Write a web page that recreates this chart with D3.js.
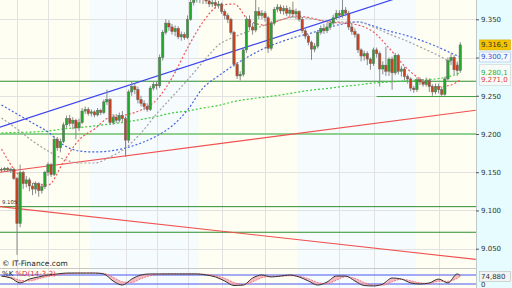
<!DOCTYPE html>
<html>
<head>
<meta charset="utf-8">
<script src="https://cdn.jsdelivr.net/npm/d3@7"></script>
<style>
html, body { margin: 0; padding: 0; background: #fff; }
svg { display: block; font-family: "DejaVu Sans", sans-serif; }
</style>
</head>
<body>
<svg id="chart" width="512" height="288"></svg>
<script>
// Candles (one per bar, left to right)
const opens = [9.154,9.153,9.155,9.153,9.154,9.142,9.083,9.150,9.135,9.140,9.132,9.128,9.135,9.126,9.131,9.150,9.160,9.147,9.193,9.182,
  9.190,9.212,9.220,9.214,9.218,9.208,9.215,9.230,9.232,9.227,9.229,9.225,9.231,9.228,9.242,9.245,9.215,9.222,9.218,9.224,
  9.220,9.192,9.255,9.262,9.258,9.245,9.240,9.236,9.232,9.260,9.265,9.263,9.300,9.333,9.345,9.340,9.334,9.338,9.327,9.330,
  9.326,9.350,9.372,9.378,9.382,9.376,9.379,9.374,9.370,9.372,9.368,9.370,9.360,9.355,9.350,9.333,9.291,9.276,9.278,9.310,
  9.350,9.340,9.336,9.360,9.355,9.358,9.352,9.312,9.345,9.363,9.366,9.361,9.364,9.358,9.362,9.357,9.360,9.350,9.335,9.328,
  9.320,9.311,9.315,9.333,9.338,9.335,9.340,9.345,9.352,9.358,9.355,9.362,9.358,9.340,9.334,9.330,9.310,9.302,9.305,9.298,
  9.292,9.310,9.305,9.285,9.290,9.282,9.298,9.280,9.303,9.282,9.285,9.275,9.272,9.260,9.258,9.271,9.268,9.265,9.270,9.262,
  9.255,9.262,9.258,9.252,9.272,9.296,9.300,9.290,9.283];
const highs = [9.156,9.157,9.157,9.156,9.156,9.144,9.160,9.152,9.145,9.143,9.136,9.138,9.137,9.135,9.152,9.163,9.162,9.197,9.196,9.194,
  9.215,9.224,9.225,9.222,9.220,9.220,9.234,9.236,9.235,9.232,9.231,9.234,9.233,9.245,9.258,9.247,9.226,9.226,9.228,9.230,
  9.223,9.258,9.268,9.266,9.262,9.250,9.244,9.240,9.263,9.268,9.268,9.304,9.336,9.350,9.349,9.344,9.342,9.341,9.334,9.333,
  9.355,9.385,9.390,9.392,9.388,9.386,9.383,9.378,9.376,9.375,9.374,9.372,9.363,9.358,9.352,9.335,9.293,9.282,9.313,9.354,
  9.355,9.345,9.376,9.366,9.362,9.361,9.354,9.348,9.366,9.370,9.369,9.368,9.368,9.366,9.373,9.364,9.362,9.353,9.338,9.330,
  9.322,9.319,9.336,9.342,9.344,9.345,9.349,9.356,9.362,9.362,9.376,9.366,9.361,9.344,9.338,9.332,9.312,9.309,9.308,9.300,
  9.313,9.313,9.308,9.295,9.314,9.300,9.301,9.306,9.305,9.289,9.288,9.278,9.274,9.263,9.274,9.274,9.272,9.274,9.273,9.265,
  9.266,9.266,9.262,9.275,9.300,9.305,9.303,9.295,9.320];
const lows = [9.150,9.151,9.150,9.149,9.140,9.042,9.078,9.128,9.130,9.125,9.120,9.122,9.118,9.122,9.128,9.145,9.144,9.145,9.178,9.176,
  9.188,9.208,9.210,9.206,9.193,9.204,9.213,9.226,9.224,9.223,9.222,9.223,9.225,9.226,9.238,9.212,9.212,9.214,9.215,9.216,
  9.170,9.188,9.250,9.252,9.240,9.236,9.231,9.229,9.230,9.257,9.258,9.260,9.296,9.330,9.335,9.330,9.328,9.324,9.322,9.323,
  9.324,9.348,9.368,9.372,9.371,9.370,9.370,9.366,9.366,9.364,9.364,9.357,9.350,9.345,9.330,9.288,9.272,9.270,9.275,9.306,
  9.336,9.330,9.333,9.350,9.350,9.347,9.306,9.309,9.342,9.359,9.357,9.356,9.354,9.353,9.352,9.350,9.347,9.332,9.324,9.316,
  9.297,9.307,9.312,9.330,9.331,9.332,9.336,9.342,9.349,9.351,9.352,9.354,9.336,9.330,9.326,9.306,9.295,9.296,9.290,9.284,
  9.289,9.300,9.262,9.278,9.276,9.276,9.258,9.277,9.278,9.275,9.270,9.266,9.256,9.254,9.255,9.264,9.262,9.262,9.255,9.250,
  9.252,9.253,9.249,9.250,9.270,9.290,9.278,9.276,9.280];
const closes = [9.153,9.155,9.153,9.154,9.142,9.083,9.150,9.135,9.140,9.132,9.128,9.135,9.126,9.131,9.150,9.160,9.147,9.193,9.182,9.190,
  9.212,9.220,9.214,9.218,9.208,9.215,9.230,9.232,9.227,9.229,9.225,9.231,9.228,9.242,9.245,9.215,9.222,9.218,9.224,9.220,
  9.192,9.255,9.262,9.258,9.245,9.240,9.236,9.232,9.260,9.265,9.263,9.300,9.333,9.345,9.340,9.334,9.338,9.327,9.330,9.326,
  9.350,9.372,9.378,9.382,9.376,9.379,9.374,9.370,9.372,9.368,9.370,9.360,9.355,9.350,9.333,9.291,9.276,9.278,9.310,9.350,
  9.340,9.336,9.360,9.355,9.358,9.352,9.312,9.345,9.363,9.366,9.361,9.364,9.358,9.362,9.357,9.360,9.350,9.335,9.328,9.320,
  9.311,9.315,9.333,9.338,9.335,9.340,9.345,9.352,9.358,9.355,9.362,9.358,9.340,9.334,9.330,9.310,9.302,9.305,9.298,9.292,
  9.310,9.305,9.285,9.290,9.282,9.298,9.280,9.303,9.282,9.285,9.275,9.272,9.260,9.258,9.271,9.268,9.265,9.270,9.262,9.255,
  9.262,9.258,9.252,9.272,9.296,9.300,9.284,9.283,9.3165];

// Moving averages, read every 5 bars
const maIdx = [0,5,10,15,20,25,30,35,40,45,50,55,60,65,70,75,80,85,90,95,100,105,110,115,120,125,130,135,140,145,148];
const maRed = [9.1804,9.1490,9.1359,9.1333,9.1634,9.1922,9.2066,9.2222,9.2249,9.2314,9.2445,9.2732,9.3125,9.3465,9.3674,9.3700,
  9.3478,9.3425,9.3491,9.3543,9.3517,9.3465,9.3452,9.3425,9.3334,9.3125,9.2889,9.2719,9.2615,9.2641,9.2710];
const maGrey = [9.2209,9.2066,9.1909,9.1778,9.1673,9.1621,9.1621,9.1699,9.1817,9.2013,9.2262,9.2484,9.2706,9.2942,9.3164,9.3269,
  9.3347,9.3425,9.3491,9.3530,9.3504,9.3478,9.3465,9.3465,9.3399,9.3308,9.3229,9.3138,9.3046,9.2942,9.2902];
const maBlue = [9.2379,9.2262,9.2144,9.2026,9.1856,9.1778,9.1765,9.1778,9.1817,9.1882,9.1974,9.2105,9.2314,9.2602,9.2759,9.2902,
  9.3020,9.3125,9.3203,9.3269,9.3321,9.3386,9.3439,9.3465,9.3412,9.3347,9.3295,9.3229,9.3151,9.3059,9.3007];
const maGreen = [9.2013,9.2020,9.2026,9.2039,9.2066,9.2085,9.2105,9.2131,9.2157,9.2190,9.2229,9.2275,9.2301,9.2340,9.2373,9.2425,
  9.2458,9.2484,9.2510,9.2543,9.2575,9.2595,9.2621,9.2641,9.2667,9.2680,9.2693,9.2706,9.2719,9.2759,9.2800];

// Stochastic (14-3-3), read every 3 bars
const stochIdx = [0,3,6,9,12,15,18,21,24,27,30,33,36,39,42,45,48,51,54,57,60,63,66,69,72,75,78,81,84,87,90,93,96,99,102,105,108,111,114,117,120,123,126,129,132,135,138,141,144,147,148];
const stochK = [73,60,27,53,67,80,87,93,93,93,93,87,40,13,53,80,87,87,87,87,87,87,80,67,40,10,13,60,80,67,73,80,67,40,13,33,73,73,40,10,7,20,60,53,27,20,27,53,27,87,74.88];
const stochD = [70,66,45,40,55,70,80,88,92,93,93,90,65,35,30,55,75,85,87,87,87,87,84,75,58,30,15,35,62,72,72,75,72,55,30,22,45,68,58,30,12,12,35,52,42,28,24,38,38,58,72];

// Drawn lines: trend lines [idx, price] pairs and horizontal levels
const blueTrend = [[-0.5, 9.209], [140, 9.394]];
const redTrendUp = [[-0.5, 9.150], [153, 9.231]];
const redTrendDown = [[-0.5, 9.105], [153, 9.036]];
const greenLevels = [9.269, 9.105, 9.0715];
const supportLevel = { from: 121, value: 9.249 };
const thickLevel = 9.200;

const yTicks = [9.050, 9.100, 9.150, 9.200, 9.250, 9.300, 9.350];
const hiddenTick = 9.300; // covered by the last-value boxes
const dayStarts = [0, 29, 64, 96, 134];
const hourLines = [5, 15, 25, 40, 50, 60, 71, 85, 109, 120, 141];

const lastLabels = [
  { text: "9.316,5", value: 9.3165, color: "#333", fill: "#f5c400", stroke: "#d8a800" },
  { text: "9.300,7", value: 9.3007, color: "#3050c8", fill: "#f4f8ff", stroke: "#aabbe8" },
  { text: "9.280,1", value: 9.2801, color: "#2fae2f", fill: "#f6fbf8", stroke: "none" },
  { text: "9.271,0", value: 9.2710, color: "#e04040", fill: "#f6fbf8", stroke: "none" }
];

const plotW = 476, mainH = 268;
const svg = d3.select("#chart");

const x = d3.scaleLinear().domain([0, 148]).range([1.5, 460.3]);
const y = d3.scaleLinear().domain([9.05, 9.35]).range([248.7, 19.3]);
const ys = d3.scaleLinear().domain([0, 100]).range([287, 272]);

// backgrounds
svg.append("rect").attr("width", 512).attr("height", 288).attr("fill", "#e6fcfe");
const bandX = i => i === 0 ? 0 : x(dayStarts[i]) - 1.55;
dayStarts.forEach((d, i) => {
  const x0 = bandX(i), x1 = i < dayStarts.length - 1 ? bandX(i + 1) : plotW;
  svg.append("rect").attr("x", x0).attr("y", 0).attr("width", x1 - x0).attr("height", 288)
    .attr("fill", i % 2 === 0 ? "#fffef2" : "#f6fbfe");
});

const defs = svg.append("defs");
defs.append("clipPath").attr("id", "mainClip").append("rect").attr("width", plotW).attr("height", mainH);
defs.append("clipPath").attr("id", "stochClip").append("rect").attr("y", mainH).attr("width", plotW).attr("height", 20);

// grid
svg.append("g").selectAll("line").data(hourLines).enter().append("line")
  .attr("x1", d => Math.round(x(d)) + 0.5).attr("x2", d => Math.round(x(d)) + 0.5)
  .attr("y1", 0).attr("y2", 288).attr("stroke", "#e2e2e2");
svg.append("g").selectAll("line").data(yTicks).enter().append("line")
  .attr("x1", 0).attr("x2", plotW)
  .attr("y1", d => Math.round(y(d)) + 0.5).attr("y2", d => Math.round(y(d)) + 0.5)
  .attr("stroke", "#e2e2e2");

const main = svg.append("g").attr("clip-path", "url(#mainClip)");

// levels
main.append("line").attr("x1", 0).attr("x2", plotW).attr("y1", y(thickLevel)).attr("y2", y(thickLevel))
  .attr("stroke", "#8fd08f").attr("stroke-width", 2);
main.selectAll(".lvl").data(greenLevels).enter().append("line")
  .attr("x1", 0).attr("x2", plotW).attr("y1", d => y(d)).attr("y2", d => y(d))
  .attr("stroke", "#2f8f2f").attr("stroke-width", 1);
main.append("line").attr("x1", x(supportLevel.from)).attr("x2", plotW)
  .attr("y1", y(supportLevel.value)).attr("y2", y(supportLevel.value))
  .attr("stroke", "#3f9f3f").attr("stroke-width", 1);

const seg = d3.line().x(d => x(d[0])).y(d => y(d[1]));
main.append("path").attr("d", seg(redTrendUp)).attr("stroke", "#f05050").attr("stroke-width", 1.1).attr("fill", "none");
main.append("path").attr("d", seg(redTrendDown)).attr("stroke", "#f05050").attr("stroke-width", 1.1).attr("fill", "none");

// moving averages
const maLine = vals => d3.line().curve(d3.curveMonotoneX)
  .x((d, i) => x(maIdx[i])).y(d => y(d))(vals);
[[maGreen, "#3ccc3c"], [maBlue, "#4462e0"], [maGrey, "#a0a0a0"], [maRed, "#f05858"]].forEach(([vals, c]) => {
  main.append("path").attr("d", maLine(vals)).attr("fill", "none")
    .attr("stroke", c).attr("stroke-width", 1.2).attr("stroke-dasharray", "2,2");
});

main.append("path").attr("d", seg(blueTrend)).attr("stroke", "#3a44f0").attr("stroke-width", 1.2).attr("fill", "none");

// candles
const idx = d3.range(closes.length);
main.append("g").selectAll("line").data(idx).enter().append("line")
  .attr("x1", i => x(i)).attr("x2", i => x(i))
  .attr("y1", i => y(highs[i])).attr("y2", i => y(lows[i]))
  .attr("stroke", "#8a8a8a").attr("stroke-width", 1);
main.append("g").selectAll("rect").data(idx).enter().append("rect")
  .attr("x", i => x(i) - 1.2).attr("width", 2.4)
  .attr("y", i => y(Math.max(opens[i], closes[i])))
  .attr("height", i => Math.max(1, Math.abs(y(opens[i]) - y(closes[i]))))
  .attr("fill", i => closes[i] >= opens[i] ? "#22a82a" : "#c8401c")
  .attr("stroke", "#6a6a6a").attr("stroke-width", 0.5);

// level label on the left
svg.append("text").attr("x", 2).attr("y", y(9.105) - 3).attr("font-size", 5.3).attr("fill", "#333").text("9.105");

// stochastic panel
svg.append("line").attr("x1", 0).attr("x2", plotW).attr("y1", mainH + 0.5).attr("y2", mainH + 0.5).attr("stroke", "#c8c8c8");
const st = svg.append("g").attr("clip-path", "url(#stochClip)");
[80, 20].forEach(v => st.append("line").attr("x1", 0).attr("x2", plotW)
  .attr("y1", ys(v)).attr("y2", ys(v)).attr("stroke", "#4a56f0"));
st.append("path").attr("fill", "#f4a0a8").attr("opacity", 0.7)
  .attr("d", d3.area().curve(d3.curveMonotoneX).x((d, i) => x(stochIdx[i]))
    .y0((d, i) => ys(stochD[i])).y1(d => ys(d))(stochK));
st.append("path").attr("fill", "none").attr("stroke", "#f06070").attr("stroke-width", 0.8).attr("stroke-dasharray", "2,1")
  .attr("d", d3.line().curve(d3.curveMonotoneX).x((d, i) => x(stochIdx[i])).y(d => ys(d))(stochD));
st.append("path").attr("fill", "none").attr("stroke", "#333").attr("stroke-width", 1)
  .attr("d", d3.line().curve(d3.curveMonotoneX).x((d, i) => x(stochIdx[i])).y(d => ys(d))(stochK));

const stLabel = svg.append("text").attr("x", 2).attr("y", 276).attr("font-size", 7);
stLabel.append("tspan").attr("fill", "#222").text("%K ");
stLabel.append("tspan").attr("fill", "#e03030").text("%D(14-3-3)");

svg.append("text").attr("x", 2).attr("y", 266).attr("font-size", 7.5).attr("fill", "#222").text("© IT-Finance.com");

// right axis
svg.append("line").attr("x1", plotW + 0.5).attr("x2", plotW + 0.5).attr("y1", 0).attr("y2", 288).attr("stroke", "#c0c8c8");
svg.append("g").attr("transform", `translate(${plotW},0)`)
  .call(d3.axisRight(y).tickValues(yTicks).tickSize(3).tickPadding(2)
    .tickFormat(d => d === hiddenTick ? "" : d3.format(".3f")(d)))
  .call(g => g.select(".domain").remove())
  .call(g => g.selectAll("line").attr("stroke", "#555"))
  .call(g => g.selectAll("text").attr("font-size", 7).attr("fill", "#333").attr("font-family", "DejaVu Sans"));

// last value labels
svg.append("rect").attr("x", 479.5).attr("y", 64.5).attr("width", 31).attr("height", 21)
  .attr("fill", "#f6fbf8").attr("stroke", "#aaa").attr("stroke-dasharray", "1,1").attr("stroke-width", 0.6);
lastLabels.forEach(l => {
  const cy = y(l.value);
  if (l.stroke !== "none") {
    svg.append("rect").attr("x", 479.5).attr("y", cy - 5).attr("width", 31).attr("height", 10)
      .attr("fill", l.fill).attr("stroke", l.stroke).attr("stroke-width", 0.6);
  }
  svg.append("text").attr("x", 481).attr("y", cy + 2.5).attr("font-size", 7).attr("fill", l.color).text(l.text);
});

// stochastic value labels
svg.append("rect").attr("x", 479.5).attr("y", 271.5).attr("width", 31).attr("height", 10)
  .attr("fill", "#f2f4f4").attr("stroke", "#bbb").attr("stroke-width", 0.6);
svg.append("text").attr("x", 481).attr("y", 279).attr("font-size", 7).attr("fill", "#333").text("74,880");
svg.append("text").attr("x", 481).attr("y", 287).attr("font-size", 7).attr("fill", "#333").text("0");
</script>
</body>
</html>
